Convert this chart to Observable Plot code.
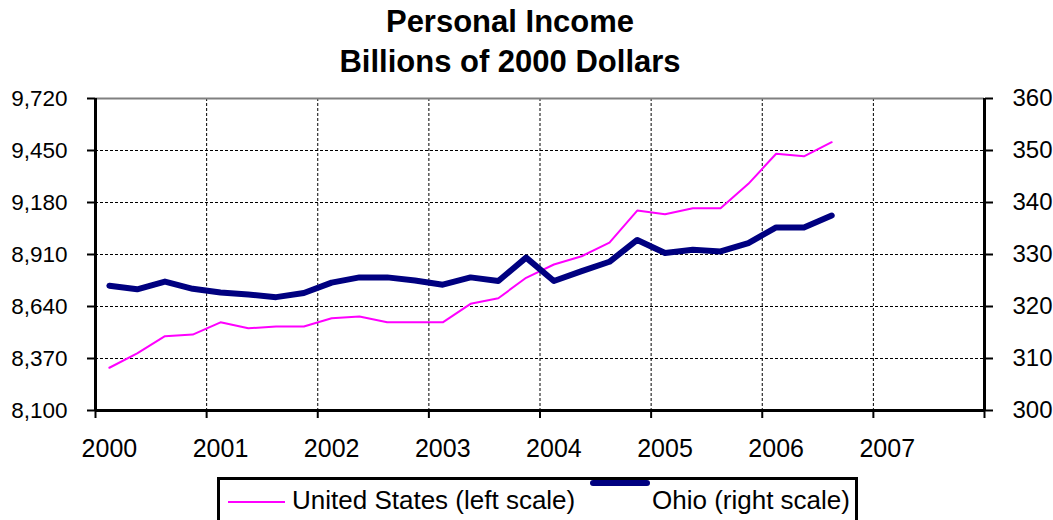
<!DOCTYPE html>
<html>
<head>
<meta charset="utf-8">
<script src="https://cdn.jsdelivr.net/npm/d3@7"></script>
<script src="https://cdn.jsdelivr.net/npm/@observablehq/plot@0.6"></script>
<style>
  html, body { margin: 0; padding: 0; background: #fff; width: 1053px; height: 520px; overflow: hidden; }
  body { position: relative; font-family: "Liberation Sans", Arial, sans-serif; color: #000; }
  #title { position: absolute; left: 0; top: 2px; width: 1020px; text-align: center; font-weight: bold; font-size: 31px; line-height: 40px; }
  #chart { position: absolute; left: 0; top: 83px; }
  #legend { position: absolute; left: 217px; top: 477px; width: 641px; height: 60px; border: 3px solid #000; box-sizing: border-box; background: #fff; }
  #legend .swatch { position: absolute; }
  #legend .label { position: absolute; font-size: 26px; line-height: 26px; white-space: nowrap; }
</style>
</head>
<body>
<div id="title">Personal Income<br>Billions of 2000 Dollars</div>
<div id="chart"></div>
<div id="legend">
  <div class="swatch" style="left:8px; top:21px; width:57px; height:2px; background:#FF00FF;"></div>
  <div class="label" style="left:72px; top:7px;">United States (left scale)</div>
  <div class="swatch" style="left:370px; top:0px; width:60px; height:6px; border-radius:3px; background:#000080;"></div>
  <div class="label" style="left:432px; top:7px;">Ohio (right scale)</div>
</div>
<script>
// ---- Data ----
const quarters = [
  "2000 Q1","2000 Q2","2000 Q3","2000 Q4",
  "2001 Q1","2001 Q2","2001 Q3","2001 Q4",
  "2002 Q1","2002 Q2","2002 Q3","2002 Q4",
  "2003 Q1","2003 Q2","2003 Q3","2003 Q4",
  "2004 Q1","2004 Q2","2004 Q3","2004 Q4",
  "2005 Q1","2005 Q2","2005 Q3","2005 Q4",
  "2006 Q1","2006 Q2","2006 Q3"
];
const usIncome = [8322, 8397, 8486, 8494, 8558, 8527, 8536, 8536, 8579, 8588, 8558, 8558, 8558, 8654, 8683, 8789,
                  8858, 8901, 8972, 9138, 9119, 9150, 9150, 9277, 9433, 9420, 9493];
const ohioIncome = [324.0, 323.3, 324.8, 323.4, 322.7, 322.3, 321.8, 322.6, 324.6, 325.6, 325.6, 325.0, 324.2, 325.6, 324.9, 329.4,
                    324.9, 326.8, 328.6, 332.8, 330.3, 330.9, 330.6, 332.2, 335.2, 335.2, 337.5];
const leftTicks = [8100, 8370, 8640, 8910, 9180, 9450, 9720];
const rightTicks = [300, 310, 320, 330, 340, 350, 360];
const yearLabels = [2000, 2001, 2002, 2003, 2004, 2005, 2006, 2007];
const yearBounds = [2000, 2001, 2002, 2003, 2004, 2005, 2006, 2007, 2008];

// ---- Derived ----
// quarter midpoint in fractional years
const qTime = s => { const [y, q] = s.split(" Q"); return +y + (+q - 1) / 4 + 0.125; };
const leftMin = leftTicks[0], leftMax = leftTicks[leftTicks.length - 1];
const rightMin = rightTicks[0], rightMax = rightTicks[rightTicks.length - 1];
const toLeft = v => leftMin + (v - rightMin) * (leftMax - leftMin) / (rightMax - rightMin);

const us = quarters.map((q, i) => ({t: qTime(q), v: usIncome[i]}));
const ohio = quarters.map((q, i) => ({t: qTime(q), v: toLeft(ohioIncome[i])}));
const tMin = yearBounds[0], tMax = yearBounds[yearBounds.length - 1];

const chart = Plot.plot({
  width: 1053,
  height: 387,
  marginLeft: 95,
  marginRight: 69,
  marginTop: 15,
  marginBottom: 60,
  style: {fontFamily: "'Liberation Sans', Arial, sans-serif", color: "#000", background: "#fff"},
  x: {domain: [tMin, tMax], axis: null},
  y: {domain: [leftMin, leftMax], axis: null},
  marks: [
    // gridlines
    Plot.ruleY(leftTicks.slice(1, -1), {stroke: "#000", strokeWidth: 1, strokeDasharray: "3,2"}),
    Plot.ruleX(yearBounds.slice(1, -1), {stroke: "#000", strokeWidth: 1, strokeDasharray: "3,2"}),
    // top border
    Plot.ruleY([leftMax], {stroke: "#808080", strokeWidth: 2}),
    // series
    Plot.line(us, {x: "t", y: "v", stroke: "#FF00FF", strokeWidth: 2}),
    Plot.line(ohio, {x: "t", y: "v", stroke: "#000080", strokeWidth: 6, strokeLinecap: "round", strokeLinejoin: "round"}),
    // axis lines
    Plot.ruleX([tMin], {stroke: "#000", strokeWidth: 3}),
    Plot.ruleX([tMax], {stroke: "#000", strokeWidth: 3}),
    Plot.ruleY([leftMin], {stroke: "#000", strokeWidth: 3}),
    // left axis
    Plot.axisY({anchor: "left", ticks: leftTicks, tickSize: 8, tickPadding: 20, strokeWidth: 2, fontSize: 22.5,
                label: null, tickFormat: d => d3.format(",")(d)}),
    // right axis (Ohio scale)
    Plot.axisY({anchor: "right", ticks: leftTicks, tickSize: 8, tickPadding: 20, strokeWidth: 2, fontSize: 24,
                label: null, tickFormat: (d, i) => String(rightTicks[i])}),
    // bottom tick marks at year boundaries
    Plot.axisX({anchor: "bottom", ticks: yearBounds, tickSize: 8, strokeWidth: 2, tickFormat: () => "", label: null}),
    // year labels at the first-quarter midpoint
    Plot.axisX({anchor: "bottom", ticks: yearLabels.map(y => y + 0.125), tickSize: 0, tickPadding: 29, fontSize: 25,
                label: null, tickFormat: d => String(Math.floor(d))})
  ]
});
document.getElementById("chart").appendChild(chart);
</script>
</body>
</html>
